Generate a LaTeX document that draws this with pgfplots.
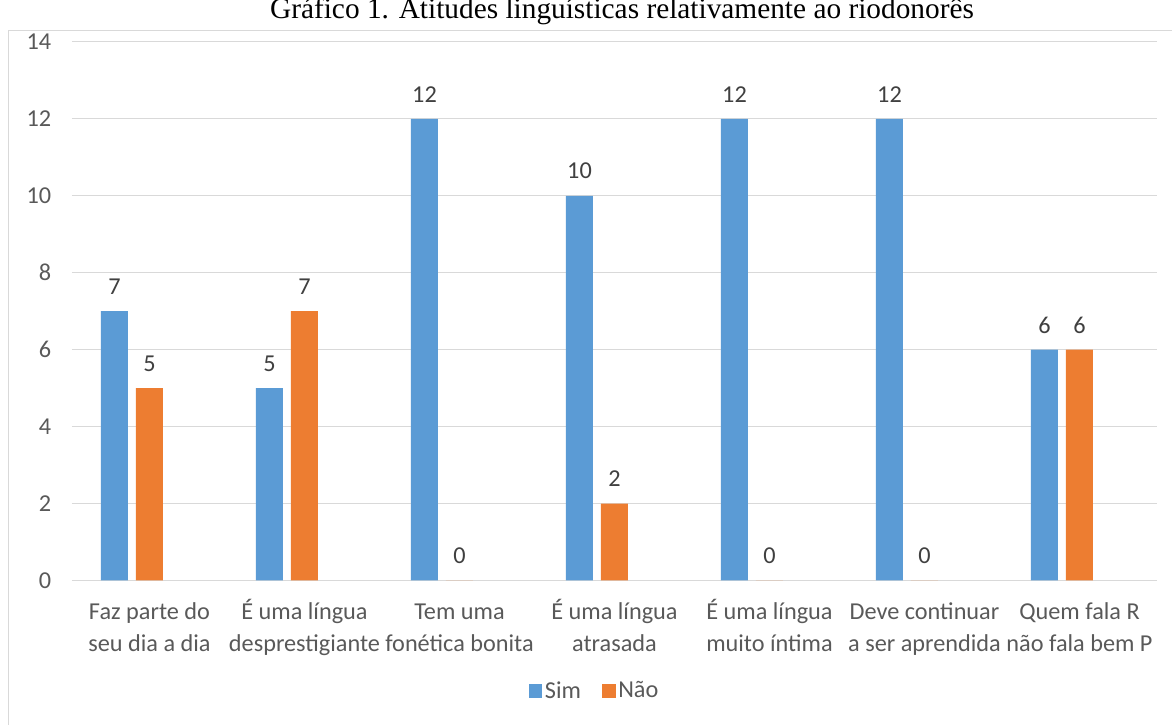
\documentclass[border=0pt]{standalone}
\usepackage{fontspec}
\setmainfont{Carlito}
\newfontfamily\titlefont{Liberation Serif}
\usepackage{pgfplots}
\pgfplotsset{compat=1.18}
\definecolor{simblue}{HTML}{5B9BD5}
\definecolor{naoorange}{HTML}{ED7D31}
\definecolor{gridgray}{HTML}{D9D9D9}
\definecolor{labelgray}{HTML}{595959}
\definecolor{datagray}{HTML}{404040}
\begin{document}
\begin{tikzpicture}
\useasboundingbox (0,0) rectangle (879pt,543.75pt);
\clip (0,0) rectangle (879pt,543.75pt);
\draw[gridgray, line width=0.75pt] (6pt,-5pt) rectangle (890pt,520.5pt);
\node[anchor=base, font=\titlefont\fontsize{22}{25}\selectfont] at (466.5pt,529.5pt) {Gráfico 1. Atitudes linguísticas relativamente ao riodonorês};
\begin{axis}[
  at={(54pt,108.4pt)}, anchor=south west,
  width=813.75pt, height=403.9pt, scale only axis,
  xmin=-0.5, xmax=6.5, ymin=0, ymax=14,
  ytick={0,2,...,14}, xtick={0,...,6},
  xticklabels={{\strut Faz parte do\\seu dia a dia},{\strut É uma língua\\desprestigiante},{\strut Tem uma\\fonética bonita},{\strut É uma língua\\atrasada},{\strut É uma língua\\muito íntima},{\strut Deve continuar\\a ser aprendida},{\strut Quem fala R\\não fala bem P}},
  axis lines*=left,
  x axis line style={gridgray, line width=0.75pt, -},
  y axis line style={draw=none},
  major tick length=0pt,
  ymajorgrids, grid style={gridgray, line width=0.75pt},
  /pgf/number format/assume math mode=true,
  tick label style={font=\fontsize{18.2}{23.5}\selectfont, text=labelgray},
  yticklabel style={xshift=-12pt},
  xticklabel style={align=center, yshift=-9.5pt},
  ybar, bar width=20.25pt,
  nodes near coords,
  every node near coord/.append style={anchor=center, yshift=18.5pt, font=\fontsize{18.2}{21}\selectfont, text=datagray},
  legend columns=2,
  legend style={draw=none, at={(0.482,-0.205)}, anchor=center, font=\fontsize{18.2}{21}\selectfont, text=labelgray,
    /tikz/every even column/.append style={column sep=14pt}},
  legend image code/.code={\fill[#1] (0pt,-5pt) rectangle (10pt,5pt);},
]
\addplot[fill=simblue, draw=none, bar shift=-26.25pt] coordinates {(0,7) (1,5) (2,12) (3,10) (4,12) (5,12) (6,6)};
\addplot[fill=naoorange, draw=none, bar shift=0pt] coordinates {(0,5) (1,7) (2,0) (3,2) (4,0) (5,0) (6,6)};
\legend{Sim, Não}
\end{axis}
\end{tikzpicture}
\end{document}
